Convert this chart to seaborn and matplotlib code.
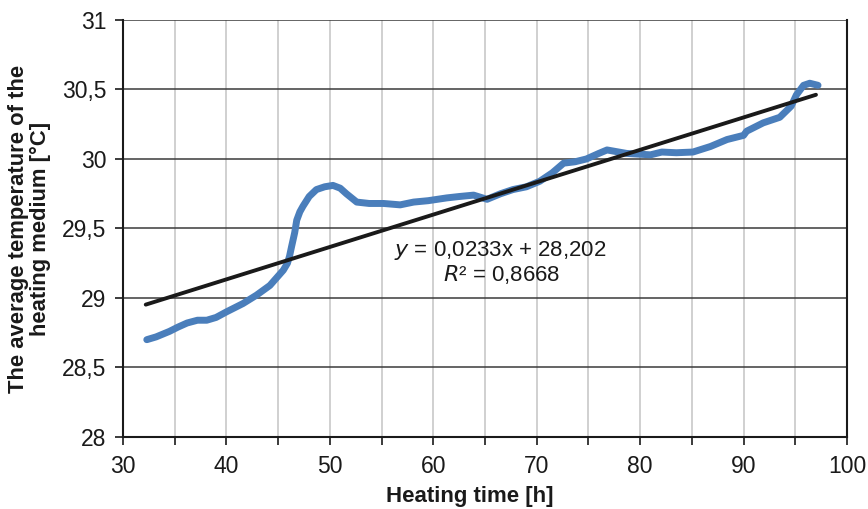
import matplotlib
matplotlib.use("Agg")
import matplotlib.pyplot as plt
import seaborn as sns
import numpy as np
import pandas as pd
from matplotlib.ticker import MultipleLocator, FuncFormatter

# Data
time_h = [32.3, 33.2, 34.5, 35.3, 36.2, 37.2, 38.1, 39.0, 40.0, 41.6, 42.9, 44.2,
          45.5, 45.9, 46.1, 46.3, 46.6, 46.8, 47.1, 47.4, 48.0, 48.7,
          49.5, 50.3, 51.0, 51.6, 52.6, 53.8, 55.2, 56.8, 58.1, 59.5, 61.3, 62.5,
          63.9, 65.2, 66.5, 67.7, 69.0, 70.3, 71.5, 72.6, 73.7, 74.8, 76.0, 76.8,
          78.7, 81.0, 82.1, 83.5, 85.1, 86.8, 88.4, 90.0, 90.3, 91.9, 93.5, 94.6,
          95.1, 95.8, 96.4, 97.2]
temp_c = [28.70, 28.72, 28.76, 28.79, 28.82, 28.84, 28.84, 28.86, 28.90, 28.96, 29.02, 29.09,
          29.20, 29.25, 29.30, 29.37, 29.47, 29.56, 29.62, 29.66, 29.73, 29.78,
          29.80, 29.81, 29.79, 29.75, 29.69, 29.68, 29.68, 29.67, 29.69, 29.70, 29.72, 29.73,
          29.74, 29.71, 29.75, 29.78, 29.80, 29.84, 29.90, 29.97, 29.98, 30.00, 30.04, 30.065,
          30.04, 30.03, 30.05, 30.045, 30.05, 30.09, 30.14, 30.17, 30.20, 30.26, 30.30, 30.38,
          30.46, 30.53, 30.545, 30.53]

fit_slope = 0.0233
fit_intercept = 28.202
fit_r2 = 0.8668
fit_range = [32.2, 97.0]

x_ticks = [30, 40, 50, 60, 70, 80, 90, 100]
y_ticks = [28, 28.5, 29, 29.5, 30, 30.5, 31]

sns.set_style("white")
plt.rcParams['font.family'] = ['Liberation Sans', 'DejaVu Sans']

fig = plt.figure(figsize=(8.68, 5.09), dpi=100)
ax = fig.add_axes([0.1417, 0.1415, 0.9758 - 0.1417, 0.9607 - 0.1415])

df = pd.DataFrame({"t": time_h, "T": temp_c})
fit_x = np.array(fit_range)
fit_df = pd.DataFrame({"t": fit_x, "T": fit_slope * fit_x + fit_intercept})

sns.lineplot(data=df, x="t", y="T", ax=ax, color="#4a7ebb", linewidth=5.0, zorder=3)
sns.lineplot(data=fit_df, x="t", y="T", ax=ax, color="#1a1a1a", linewidth=2.8, zorder=4)

ax.set_xlim(30, 100)
ax.set_ylim(28, 31)
ax.set_xticks(x_ticks)
ax.xaxis.set_minor_locator(MultipleLocator(5))
ax.set_yticks(y_ticks)

def comma(v, pos):
    s = f"{v:g}"
    return s.replace(".", ",")

ax.xaxis.set_major_formatter(FuncFormatter(comma))
ax.yaxis.set_major_formatter(FuncFormatter(comma))

ax.grid(False)
for xv in np.arange(35, 100, 5):
    ax.axvline(xv, color="#c8c8c8", linewidth=1.2, zorder=1)
for yv in y_ticks[1:]:
    ax.axhline(yv, color="#3a3a3a", linewidth=1.1, zorder=1)

for side in ["left", "bottom", "right"]:
    ax.spines[side].set_visible(True)
    ax.spines[side].set_color("#1a1a1a")
    ax.spines[side].set_linewidth(1.5)
ax.spines["top"].set_visible(False)

ax.tick_params(axis="both", which="both", direction="out", length=6, width=1.2,
               color="#1a1a1a", labelsize=16.5, labelcolor="#1a1a1a")
ax.tick_params(axis="x", which="major", pad=7)
ax.tick_params(axis="y", which="major", pad=6)
ax.tick_params(axis="y", which="minor", length=0)
ax.tick_params(left=True, bottom=True)
ax.tick_params(axis="x", which="minor", bottom=True)

ax.set_xlabel("Heating time [h]", fontsize=16, fontweight="bold", color="#1a1a1a")
ax.xaxis.set_label_coords(0.479, -0.118)
ax.set_ylabel("The average temperature of the\nheating medium [°C]", fontsize=15.8,
              fontweight="bold", color="#1a1a1a", labelpad=8, linespacing=1.05)

ax.text(66.5, 29.34, f"$\\it{{y}}$ = {str(fit_slope).replace('.', ',')}x + {str(fit_intercept).replace('.', ',')}",
        fontsize=16, color="#1a1a1a", ha="center", va="center", zorder=5)
ax.text(66.6, 29.17, f"$\\it{{R}}$² = {str(fit_r2).replace('.', ',')}",
        fontsize=16, color="#1a1a1a", ha="center", va="center", zorder=5)

fig.savefig("out.png", dpi=100)
